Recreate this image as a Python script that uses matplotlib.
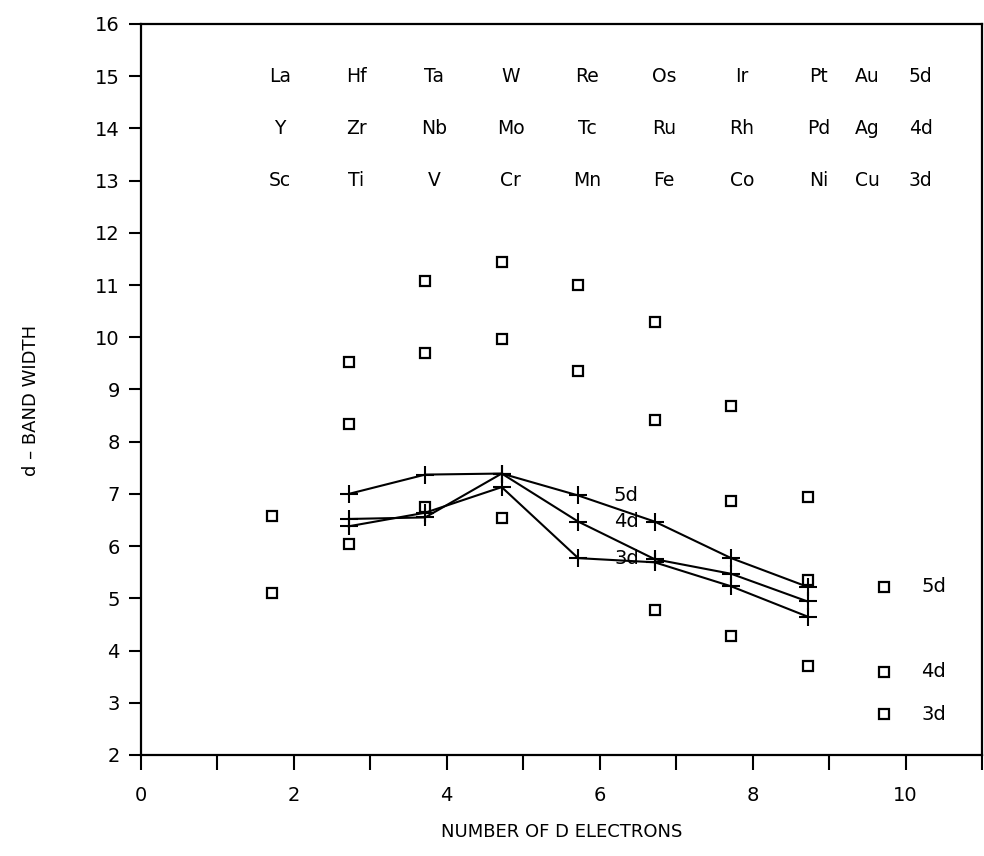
import matplotlib
matplotlib.use("Agg")
import matplotlib.pyplot as plt
import numpy as np

plt.rcParams['font.family'] = ['DejaVu Sans']

# x positions of the element columns (number of d electrons)
col_x = [1.72, 2.72, 3.72, 4.72, 5.72, 6.72, 7.72, 8.72]

# open squares, three per column (nan = no point)
sq_high = [6.57, 9.52, 11.08, 11.44, 11.00, 10.30, 8.68, 6.95]
sq_mid = [np.nan, 8.34, 9.69, 9.97, 9.36, 8.42, 6.86, 5.36]
sq_low = [5.10, 6.05, 6.75, 6.54, np.nan, 4.78, 4.28, 3.71]

# crosses joined by lines, Ti..Ni columns
line_x = [2.72, 3.72, 4.72, 5.72, 6.72, 7.72, 8.72]
band_5d = [7.00, 7.37, 7.39, 6.97, 6.47, 5.77, 5.22]
band_4d = [6.52, 6.55, 7.39, 6.47, 5.75, 5.47, 4.94]
band_3d = [6.38, 6.64, 7.13, 5.77, 5.69, 5.23, 4.65]
series_names = ["5d", "4d", "3d"]

# squares at the right with their labels
key_x = 9.72
key_y = [5.22, 3.59, 2.78]

# element table at the top
row_5d = ["La", "Hf", "Ta", "W", "Re", "Os", "Ir", "Pt", "Au", "5d"]
row_4d = ["Y", "Zr", "Nb", "Mo", "Tc", "Ru", "Rh", "Pd", "Ag", "4d"]
row_3d = ["Sc", "Ti", "V", "Cr", "Mn", "Fe", "Co", "Ni", "Cu", "3d"]
label_x = [1.82, 2.82, 3.84, 4.84, 5.84, 6.84, 7.86, 8.86, 9.5, 10.2]
row_y = [15, 14, 13]

fig = plt.figure(figsize=(9.84, 8.56), dpi=100)
ax = fig.add_axes((0.143, 0.118, 0.855, 0.854))

sq_style = dict(marker='s', markersize=7.5, markerfacecolor='white',
                markeredgecolor='black', markeredgewidth=1.6, linestyle='none')
for ys in (sq_high, sq_mid, sq_low):
    ax.plot(col_x, ys, **sq_style)

for ys in (band_5d, band_4d, band_3d):
    ax.plot(line_x, ys, color='black', linewidth=1.5, marker='+',
            markersize=13, markeredgewidth=1.5)

# labels on the lines
for name, y in zip(series_names, (band_5d[3], band_4d[3], band_3d[3])):
    ax.text(6.35, y, name, ha='center', va='center', fontsize=14)

# key squares
ax.plot([key_x] * 3, key_y, **sq_style)
for name, y in zip(series_names, key_y):
    ax.text(10.37, y, name, ha='center', va='center', fontsize=14)

for row, y in zip((row_5d, row_4d, row_3d), row_y):
    for name, x in zip(row, label_x):
        ax.text(x, y, name, ha='center', va='center', fontsize=13.5)

ax.set_xlim(0, 11)
ax.set_ylim(2, 16)
ax.set_xticks(np.arange(0, 12, 1))
ax.set_xticklabels([str(i) if i % 2 == 0 and i <= 10 else "" for i in range(12)])
ax.set_yticks(np.arange(2, 17, 1))
ax.tick_params(axis='x', direction='out', length=11, width=1.5, pad=11, labelsize=14)
ax.tick_params(axis='y', direction='out', length=9, width=1.5, pad=6, labelsize=14)
for s in ax.spines.values():
    s.set_linewidth(1.6)

ax.set_xlabel("NUMBER OF D ELECTRONS", fontsize=13, labelpad=13)
fig.text(0.031, 1 - 400 / 856, "d \u2013 BAND WIDTH", rotation=90,
         ha='center', va='center', fontsize=13)

fig.savefig("out.png", dpi=100)
